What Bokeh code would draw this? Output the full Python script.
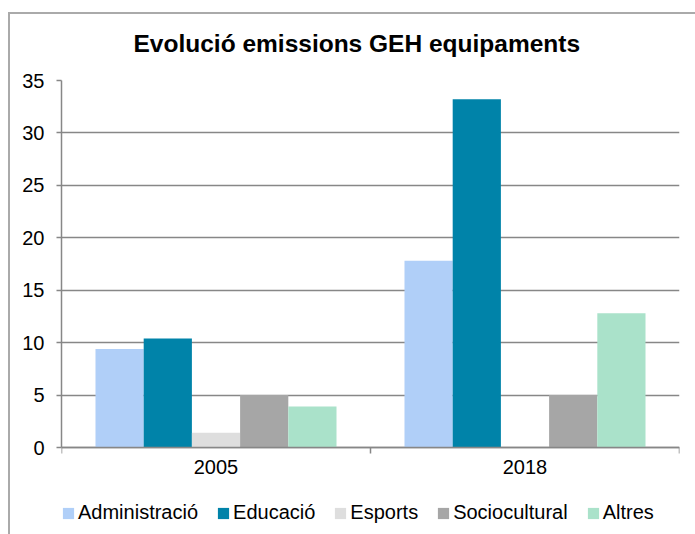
from bokeh.plotting import figure
from bokeh.models import (ColumnDataSource, Range1d, FixedTicker, SingleIntervalTicker,
                          Legend, LegendItem, LinearAxis, InlineStyleSheet)
from bokeh.transform import dodge
from bokeh.embed import file_html
from bokeh.resources import INLINE

# ---- data ----
years = ["2005", "2018"]
series = ["Administració", "Educació", "Esports", "Sociocultural", "Altres"]
administracio = [9.4, 17.8]
educacio = [10.4, 33.2]
esports = [1.4, 0.0]
sociocultural = [5.0, 5.0]
altres = [3.9, 12.8]
colors = ["#B0CFF8", "#0083A9", "#DEDEDE", "#A6A6A6", "#AAE2CA"]
title_text = "Evolució emissions GEH equipaments"
y_max = 35
y_step = 5

values = [administracio, educacio, esports, sociocultural, altres]
x_centers = [i + 0.5 for i in range(len(years))]
data = {"x": x_centers, "year": years}
for name, vals in zip(series, values):
    data[name] = vals
source = ColumnDataSource(data)

FONT = "Liberation Sans"

# layout (pixels): frame spans 80..534 vertically; value 0 sits at 447
W, H = 695, 534
FRAME_TOP, ZERO_PX = 80, 447
y_start = -y_max * (H - ZERO_PX) / (ZERO_PX - FRAME_TOP)

border_css = InlineStyleSheet(css="""
:host::after {
  content: '';
  position: absolute;
  left: 8px; top: 12px; right: 0px; bottom: 0px;
  border-left: 2px solid #AAAAAA;
  border-top: 2px solid #AAAAAA;
  pointer-events: none;
}
""")

p = figure(width=W, height=H, output_backend="svg", toolbar_location=None,
           x_range=Range1d(0, len(years)), y_range=Range1d(y_start, y_max),
           x_axis_location=None, y_axis_location=None,
           min_border_left=61, min_border_right=16, min_border_top=FRAME_TOP, min_border_bottom=0,
           stylesheets=[border_css])
p.outline_line_color = None
p.background_fill_color = "white"
p.border_fill_color = "white"

p.title.text = title_text
p.title.align = "left"
p.title.offset = 72
p.title.text_font = FONT
p.title.text_font_size = "24.5px"
p.title.text_font_style = "bold"
p.title.text_color = "#000000"
p.title.standoff = 48

bar_w = 0.156
renderers = []
n = len(series)
for i, (name, col) in enumerate(zip(series, colors)):
    off = (i - (n - 1) / 2) * bar_w
    r = p.vbar(x=dodge("x", off, range=p.x_range), top=name, width=bar_w,
               source=source, fill_color=col, line_color=None)
    renderers.append((name, r))

# axes
xaxis = LinearAxis(ticker=FixedTicker(ticks=x_centers, minor_ticks=list(range(len(years) + 1))),
                   major_label_overrides={c: y for c, y in zip(x_centers, years)},
                   fixed_location=0)
xaxis.axis_line_color = "#878787"
xaxis.axis_line_width = 1.5
xaxis.major_tick_line_color = None
xaxis.major_tick_out = 6
xaxis.major_tick_in = 0
xaxis.minor_tick_line_color = "#878787"
xaxis.minor_tick_line_width = 1.5
xaxis.minor_tick_out = 6
xaxis.minor_tick_in = 0
xaxis.major_label_standoff = 6
xaxis.major_label_text_font = FONT
xaxis.major_label_text_font_size = "20px"
xaxis.major_label_text_color = "#000000"
p.add_layout(xaxis, "below")

yticker = SingleIntervalTicker(interval=y_step)
yaxis = LinearAxis(ticker=yticker, bounds=(0, y_max))
yaxis.axis_line_color = "#878787"
yaxis.axis_line_width = 1.5
yaxis.major_tick_line_color = "#878787"
yaxis.major_tick_line_width = 1.5
yaxis.major_tick_out = 5
yaxis.major_tick_in = 0
yaxis.minor_tick_line_color = None
yaxis.major_label_standoff = 12
yaxis.major_label_text_font = FONT
yaxis.major_label_text_font_size = "20px"
yaxis.major_label_text_color = "#000000"
p.add_layout(yaxis, "left")

p.xgrid.visible = False
p.ygrid.ticker = yticker
p.ygrid.bounds = (0, y_max)
p.ygrid.grid_line_color = "#878787"
p.ygrid.grid_line_width = 1.5

legend = Legend(items=[LegendItem(label=nm, renderers=[r]) for nm, r in renderers],
                orientation="horizontal", location=(0, 10),
                glyph_width=14, glyph_height=14, label_standoff=3, spacing=18,
                padding=0, margin=0, border_line_color=None, background_fill_alpha=0,
                label_text_font=FONT, label_text_font_size="20px", label_text_color="#000000")
p.add_layout(legend, "center")

open("out.html", "w").write(file_html(p, INLINE))
